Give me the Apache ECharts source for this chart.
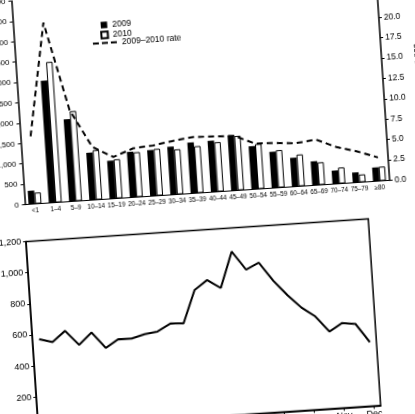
<!DOCTYPE html>
<html>
<head>
<meta charset="utf-8">
<script src="https://cdn.jsdelivr.net/npm/echarts@6/dist/echarts.min.js"></script>
<style>
  html, body { margin: 0; padding: 0; background: #fff; overflow: hidden; width: 415px; height: 414px; }
  /* the scan is tilted a little, so the whole drawing is turned */
  #main { position: absolute; left: -43px; top: -43px; width: 501px; height: 500px; transform: rotate(-3.8deg); transform-origin: 50% 50%; }
</style>
</head>
<body>
<div id="main"></div>
<script>
var ageGroups = ['<1', '1–4', '5–9', '10–14', '15–19', '20–24', '25–29', '30–34', '35–39', '40–44', '45–49', '50–54', '55–59', '60–64', '65–69', '70–74', '75–79', '≥80'];
var cases2009 = [330, 3000, 2020, 1165, 935, 1120, 1130, 1180, 1250, 1260, 1360, 1060, 890, 710, 590, 330, 250, 340];
var cases2010 = [275, 3450, 2210, 1220, 960, 1100, 1150, 1105, 1150, 1215, 1335, 1105, 920, 780, 555, 395, 190, 350];
var rate0910 = [8.3, 22.1, 11.2, 6.5, 5.1, 6.0, 6.2, 6.6, 6.9, 6.8, 6.7, 5.6, 5.5, 5.3, 5.6, 4.5, 3.8, 2.9];

var periods = ['1', '2', '3', '4', '5', '6', '7', '8', '9', '10', '11', '12', '13', '14', '15', '16', '17', '18', '19', '20', '21', '22', '23', '24', '25', '26'];
var periodCases = [570, 545, 612, 516, 590, 486, 536, 534, 557, 568, 614, 609, 818, 877, 820, 1049, 927, 966, 845, 746, 660, 598, 495, 544, 533, 410];
var months = ['Jan', 'Feb', 'Mar', 'Apr', 'May', 'Jun', 'Jul', 'Aug', 'Sep', 'Oct', 'Nov', 'Dec'];

var font = "'Liberation Sans', Arial, Helvetica, sans-serif";
var myChart = echarts.init(document.getElementById('main'));

function thousands(v) {
    return v.toLocaleString('en-US');
}

// three short dashes for the rate legend
var dashIcon = 'path://M0,0H6V2H0Z M9,0H15V2H9Z M18,0H24V2H18Z';

var option = {
    backgroundColor: '#fff',
    animation: false,
    textStyle: { fontFamily: font, color: '#000' },
    legend: [
        {
            data: [{ name: '2009', icon: 'rect' }, { name: '2010', icon: 'rect' }],
            orient: 'vertical',
            left: 150, top: 52,
            itemWidth: 6.5, itemHeight: 6.5, itemGap: 1,
            textStyle: { fontSize: 8.5, lineHeight: 7, color: '#000' }
        },
        {
            data: [{ name: '2009–2010 rate', icon: dashIcon }],
            left: 142, top: 70,
            itemWidth: 24, itemHeight: 2,
            itemStyle: { color: '#000', borderWidth: 0 },
            textStyle: { fontSize: 8.5, lineHeight: 7, color: '#000' }
        }
    ],
    grid: [
        { left: 68.5, top: 31.5, width: 365.5, height: 204 },
        { left: 67.15, top: 272.5, width: 343, height: 187, show: true, borderColor: '#000', borderWidth: 1.5 },
        { left: 73.7, top: 272.5, width: 329.8, height: 187 }
    ],
    xAxis: [
        {
            type: 'category', gridIndex: 0, data: ageGroups,
            axisLine: { lineStyle: { color: '#000', width: 1.2 } },
            axisTick: { show: false },
            axisLabel: { fontSize: 6.3, color: '#000', margin: 4, interval: 0 }
        },
        {
            type: 'category', gridIndex: 1, data: periods,
            axisLine: { lineStyle: { color: '#000', width: 1.5 } },
            axisTick: { show: false },
            axisLabel: { show: false }
        },
        {
            type: 'category', gridIndex: 2, data: months, boundaryGap: false,
            axisLine: { show: false },
            axisTick: { show: true, length: 3, lineStyle: { color: '#000' } },
            axisLabel: { fontSize: 9, color: '#000', margin: 4, interval: 0 }
        }
    ],
    yAxis: [
        {
            type: 'value', gridIndex: 0, min: 0, max: 5000, interval: 500,
            splitLine: { show: false },
            axisLine: { show: true, lineStyle: { color: '#000', width: 1.5 } },
            axisTick: { show: true, length: 3, lineStyle: { color: '#000' } },
            axisLabel: { fontSize: 8, color: '#000', margin: 6, formatter: thousands }
        },
        {
            type: 'value', gridIndex: 0, position: 'right', min: 0, max: 25, interval: 2.5,
            name: 'Rate per 100,000', nameLocation: 'middle', nameGap: 26,
            nameTextStyle: { fontSize: 8.5, color: '#000', padding: [0, 0, 40, 0] },
            splitLine: { show: false },
            axisLine: { show: true, lineStyle: { color: '#000', width: 1.5 } },
            axisTick: { show: true, length: 3, lineStyle: { color: '#000' } },
            axisLabel: { fontSize: 8.5, color: '#000', margin: 5, formatter: function (v) { return v.toFixed(1); } }
        },
        {
            type: 'value', gridIndex: 1, min: 0, max: 1200, interval: 200,
            splitLine: { show: false },
            axisLine: { show: true, lineStyle: { color: '#000', width: 1.5 } },
            axisTick: { show: true, length: 3, lineStyle: { color: '#000' } },
            axisLabel: { fontSize: 9, color: '#000', margin: 5, formatter: thousands }
        },
        { type: 'value', gridIndex: 2, show: false }
    ],
    series: [
        {
            name: '2009', type: 'bar', xAxisIndex: 0, yAxisIndex: 0,
            data: cases2009, barWidth: 6.5, barGap: '0%',
            itemStyle: { color: '#000' }
        },
        {
            name: '2010', type: 'bar', xAxisIndex: 0, yAxisIndex: 0,
            data: cases2010, barWidth: 6.5,
            itemStyle: { color: '#fff', borderColor: '#000', borderWidth: 1 }
        },
        {
            name: '2009–2010 rate', type: 'line', xAxisIndex: 0, yAxisIndex: 1,
            data: rate0910, symbol: 'none',
            lineStyle: { color: '#000', width: 2, type: [6, 4] },
            itemStyle: { color: '#000' }
        },
        {
            name: 'cases', type: 'line', xAxisIndex: 1, yAxisIndex: 2,
            data: periodCases, symbol: 'none',
            lineStyle: { color: '#000', width: 2 }
        }
    ]
};

myChart.setOption(option);
</script>
</body>
</html>
